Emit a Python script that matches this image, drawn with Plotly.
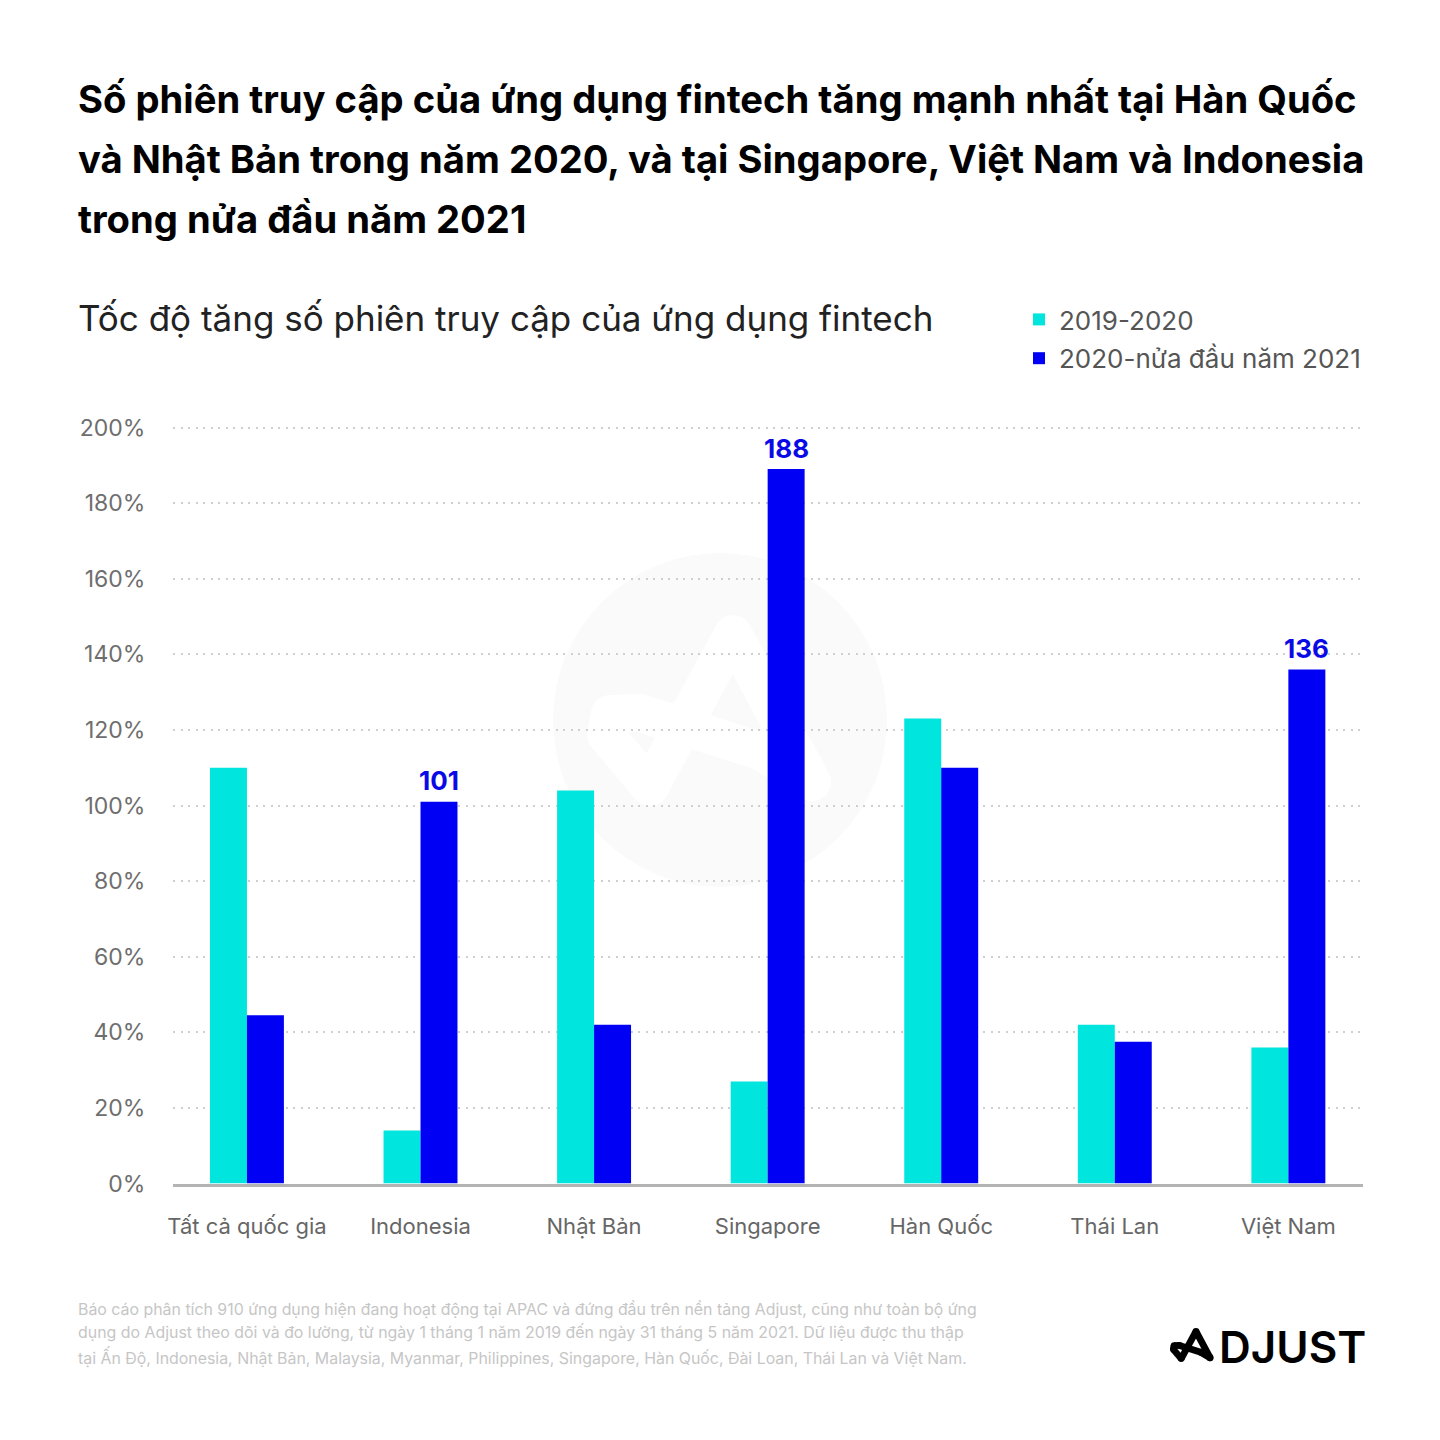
import plotly.graph_objects as go

W = 1440
FONT = "Inter"

countries = ["Tất cả quốc gia", "Indonesia", "Nhật Bản", "Singapore", "Hàn Quốc", "Thái Lan", "Việt Nam"]
growth_2019_2020 = [110, 14, 104, 27, 123, 42, 36]
growth_2020_2021 = [44.5, 101, 42, 189, 110, 37.5, 136]
labels_2020_2021 = ["", "101", "", "188", "", "", "136"]
y_ticks = [0, 20, 40, 60, 80, 100, 120, 140, 160, 180, 200]
y_tick_labels = ["0%", "20%", "40%", "60%", "80%", "100%", "120%", "140%", "160%", "180%", "200%"]

title_lines = [
    "Số phiên truy cập của ứng dụng fintech tăng mạnh nhất tại Hàn Quốc",
    "và Nhật Bản trong năm 2020, và tại Singapore, Việt Nam và Indonesia",
    "trong nửa đầu năm 2021",
]
subtitle = "Tốc độ tăng số phiên truy cập của ứng dụng fintech"
note_lines = [
    "Báo cáo phân tích 910 ứng dụng hiện đang hoạt động tại APAC và đứng đầu trên nền tảng Adjust, cũng như toàn bộ ứng",
    "dụng do Adjust theo dõi và đo lường, từ ngày 1 tháng 1 năm 2019 đến ngày 31 tháng 5 năm 2021. Dữ liệu được thu thập",
    "tại Ấn Độ, Indonesia, Nhật Bản, Malaysia, Myanmar, Philippines, Singapore, Hàn Quốc, Đài Loan, Thái Lan và Việt Nam.",
]

# outline of the A in the logo, in watermark pixels
A_POINTS = [(812, 782), (733, 634), (650, 787), (606, 735), (610, 714), (640, 713), (760, 751), (812, 782)]


def px(x):
    return x / W


def py(y):
    return 1 - y / W


def text_at(x, y, text, size, color, bold=False, anchor="left", weight=None):
    font = dict(family=FONT, size=size, color=color)
    if weight:
        font["weight"] = weight
    fig.add_annotation(
        x=px(x), y=py(y), xref="paper", yref="paper", text=f"<b>{text}</b>" if bold else text,
        showarrow=False, xanchor=anchor, yanchor="middle", borderpad=0, font=font,
    )


def a_mark(points, width, color):
    # separate strokes so the joints stay round
    r = width / 2
    for (x0, y0), (x1, y1) in zip(points, points[1:]):
        fig.add_shape(type="line", xref="paper", yref="paper", layer="below",
                      x0=px(x0), x1=px(x1), y0=py(y0), y1=py(y1), line=dict(color=color, width=width))
    for x, y in points:
        fig.add_shape(type="circle", xref="paper", yref="paper", layer="below",
                      x0=px(x - r), x1=px(x + r), y0=py(y + r), y1=py(y - r),
                      fillcolor=color, line=dict(width=0))


fig = go.Figure()
fig.add_bar(x=countries, y=growth_2019_2020, name="2019-2020", legendgroup="a",
            marker=dict(color="#00E6DE", line=dict(width=0)))
fig.add_bar(x=countries, y=growth_2020_2021, name="2020-nửa đầu năm 2021", legendgroup="b",
            marker=dict(color="#0000F5", line=dict(width=0)))

for country, value, label in zip(countries, growth_2020_2021, labels_2020_2021):
    if label:
        fig.add_annotation(x=country, y=value, text=f"<b>{label}</b>", showarrow=False, xshift=18.5, yshift=21,
                           yanchor="middle", font=dict(family=FONT, size=26, color="#0A0AE6"))

# watermark
fig.add_shape(type="circle", xref="paper", yref="paper", layer="below",
              x0=px(553), x1=px(887), y0=py(887), y1=py(553), fillcolor="#FAFAFA", line=dict(width=0))
a_mark(A_POINTS, 38, "#FFFFFF")

# logo
a_mark([(1170 + (x - 587) * 0.178, 1328 + (y - 615) * 0.178) for x, y in A_POINTS], 6.8, "#000000")

for i, line in enumerate(title_lines):
    text_at(77, 99 + i * 60, line, 38.2, "#000000", bold=True)
text_at(77, 318, subtitle, 35, "#222222")
for i, line in enumerate(note_lines):
    text_at(77, 1309 + i * 23.8, line, 15.9, "#C6C6C6")
text_at(1292, 1347, "DJUST", 44, "#000000", anchor="center", weight=600)

fig.update_layout(
    width=W, height=W, autosize=False,
    margin=dict(l=0, r=0, t=0, b=0, autoexpand=False),
    paper_bgcolor="#FFFFFF", plot_bgcolor="rgba(0,0,0,0)",
    barmode="group", bargap=0.574, bargroupgap=0,
    font=dict(family=FONT),
    legend=dict(
        x=px(1019), y=py(296), xanchor="left", yanchor="top", orientation="v", tracegroupgap=2,
        font=dict(family=FONT, size=26, color="#555555"), bgcolor="rgba(0,0,0,0)", traceorder="grouped",
    ),
    xaxis=dict(
        domain=[px(173), px(1363)], range=[-0.426, 6.43], showgrid=False, zeroline=False,
        showline=True, linecolor="#B4B4B4", linewidth=2.5, ticks="outside", ticklen=21, tickcolor="rgba(0,0,0,0)",
        tickfont=dict(family=FONT, size=22, color="#666666"), tickangle=0,
    ),
    yaxis=dict(
        domain=[py(1183.5), py(423.72)], range=[0, 201], tickvals=y_ticks, ticktext=y_tick_labels, zeroline=False,
        showgrid=True, gridcolor="#CFCFCF", gridwidth=1.6, griddash="2px,5.5px", showline=False,
        ticks="outside", ticklen=22, tickcolor="rgba(0,0,0,0)",
        tickfont=dict(family=FONT, size=23, color="#6E6E6E"),
    ),
)

fig.write_html("out.html", config={"displayModeBar": False}, post_script="document.body.style.margin='0';")
